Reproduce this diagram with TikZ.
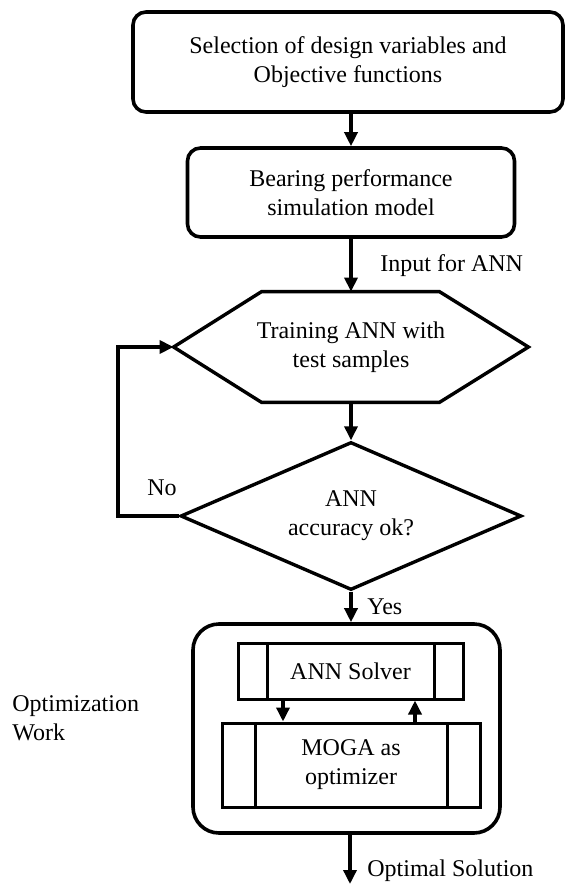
\documentclass[tikz,border=0pt]{standalone}
\usepackage{fontspec}
\setmainfont{Liberation Serif}
\usetikzlibrary{calc,arrows.meta,positioning,shapes.geometric}
\tikzset{
  ar/.style={-{Triangle[length=7pt,width=6.5pt]},line width=1.7pt},
  box/.style={draw,line width=1.8pt,rounded corners=6.5pt,align=center,inner sep=0pt},
  procbox/.style={draw,line width=1.5pt,align=center,inner sep=0pt,
    path picture={\draw[line width=1.5pt]
      ($(path picture bounding box.north west)+(#1,0)$) -- ($(path picture bounding box.south west)+(#1,0)$)
      ($(path picture bounding box.north east)+(-#1,0)$) -- ($(path picture bounding box.south east)+(-#1,0)$);}},
  lbl/.style={inner sep=0pt,anchor=west,align=left}
}

\begin{document}
\begin{tikzpicture}[x=0.5pt,y=-0.5pt,font=\fontsize{12}{14.5}\selectfont]
\useasboundingbox (0,0) rectangle (565,884);
% main column
\node[box,minimum width=215pt,minimum height=50pt] (sel) at (348,62) {Selection of design variables and\\Objective functions};
\node[box,minimum width=163.5pt,minimum height=44.5pt] (sim) at (351,192.5) {Bearing performance\\simulation model};
\node[align=center,inner sep=0pt,minimum width=177pt,minimum height=55pt] (train) at (351,347) {Training ANN with\\test samples};
\draw[line width=1.7pt] (train.west) -- ($(train.north west)+(88,0)$) -- ($(train.north east)+(-89,0)$)
  -- (train.east) -- ($(train.south east)+(-89,0)$) -- ($(train.south west)+(88,0)$) -- cycle;
\node[diamond,draw,line width=1.7pt,aspect=2.3,inner sep=0pt,align=center,
  minimum width=170.5pt,minimum height=74pt] (acc) at (351,516) {ANN\\accuracy ok?};
% optimization block
\node[box,rounded corners=13pt,minimum width=153.5pt,minimum height=104.5pt] (opt) at (346.5,728.5) {};
\node[procbox=29,minimum width=112.5pt,minimum height=28pt] (solver) at (350.5,671) {ANN Solver};
\node[procbox=33,minimum width=129pt,minimum height=42pt] (moga) at (351,765) {MOGA as\\optimizer};
\coordinate (out) at (350,884);
% connectors
\draw[ar] (sel.south -| sim.north) -- (sim.north);
\draw[ar] (sim.south) -- (train.north);
\draw[ar] (train.south) -- (acc.north);
\draw[ar] (acc.west) -- ++(-61,0) |- (train.west);
\draw[ar] (acc.south) -- (acc.south |- opt.north);
\draw[ar] ($(solver.south)+(-67.5,0)$) -- ($(moga.north)+(-68,0)$);
\draw[ar] ($(moga.north)+(64,0)$) -- ($(solver.south)+(64.5,0)$);
\draw[ar] (opt.south -| out) -- (out);
% labels
\node[lbl] (inp) at (380,266) {Input for ANN};
\node (no) at (162,488) {No};
\node[lbl] (yes) at (367,607) {Yes};
\node[lbl] (work) at (12,718) {Optimization\\Work};
\node[lbl] (sol) at (367,871) {Optimal Solution};
\end{tikzpicture}
\end{document}
